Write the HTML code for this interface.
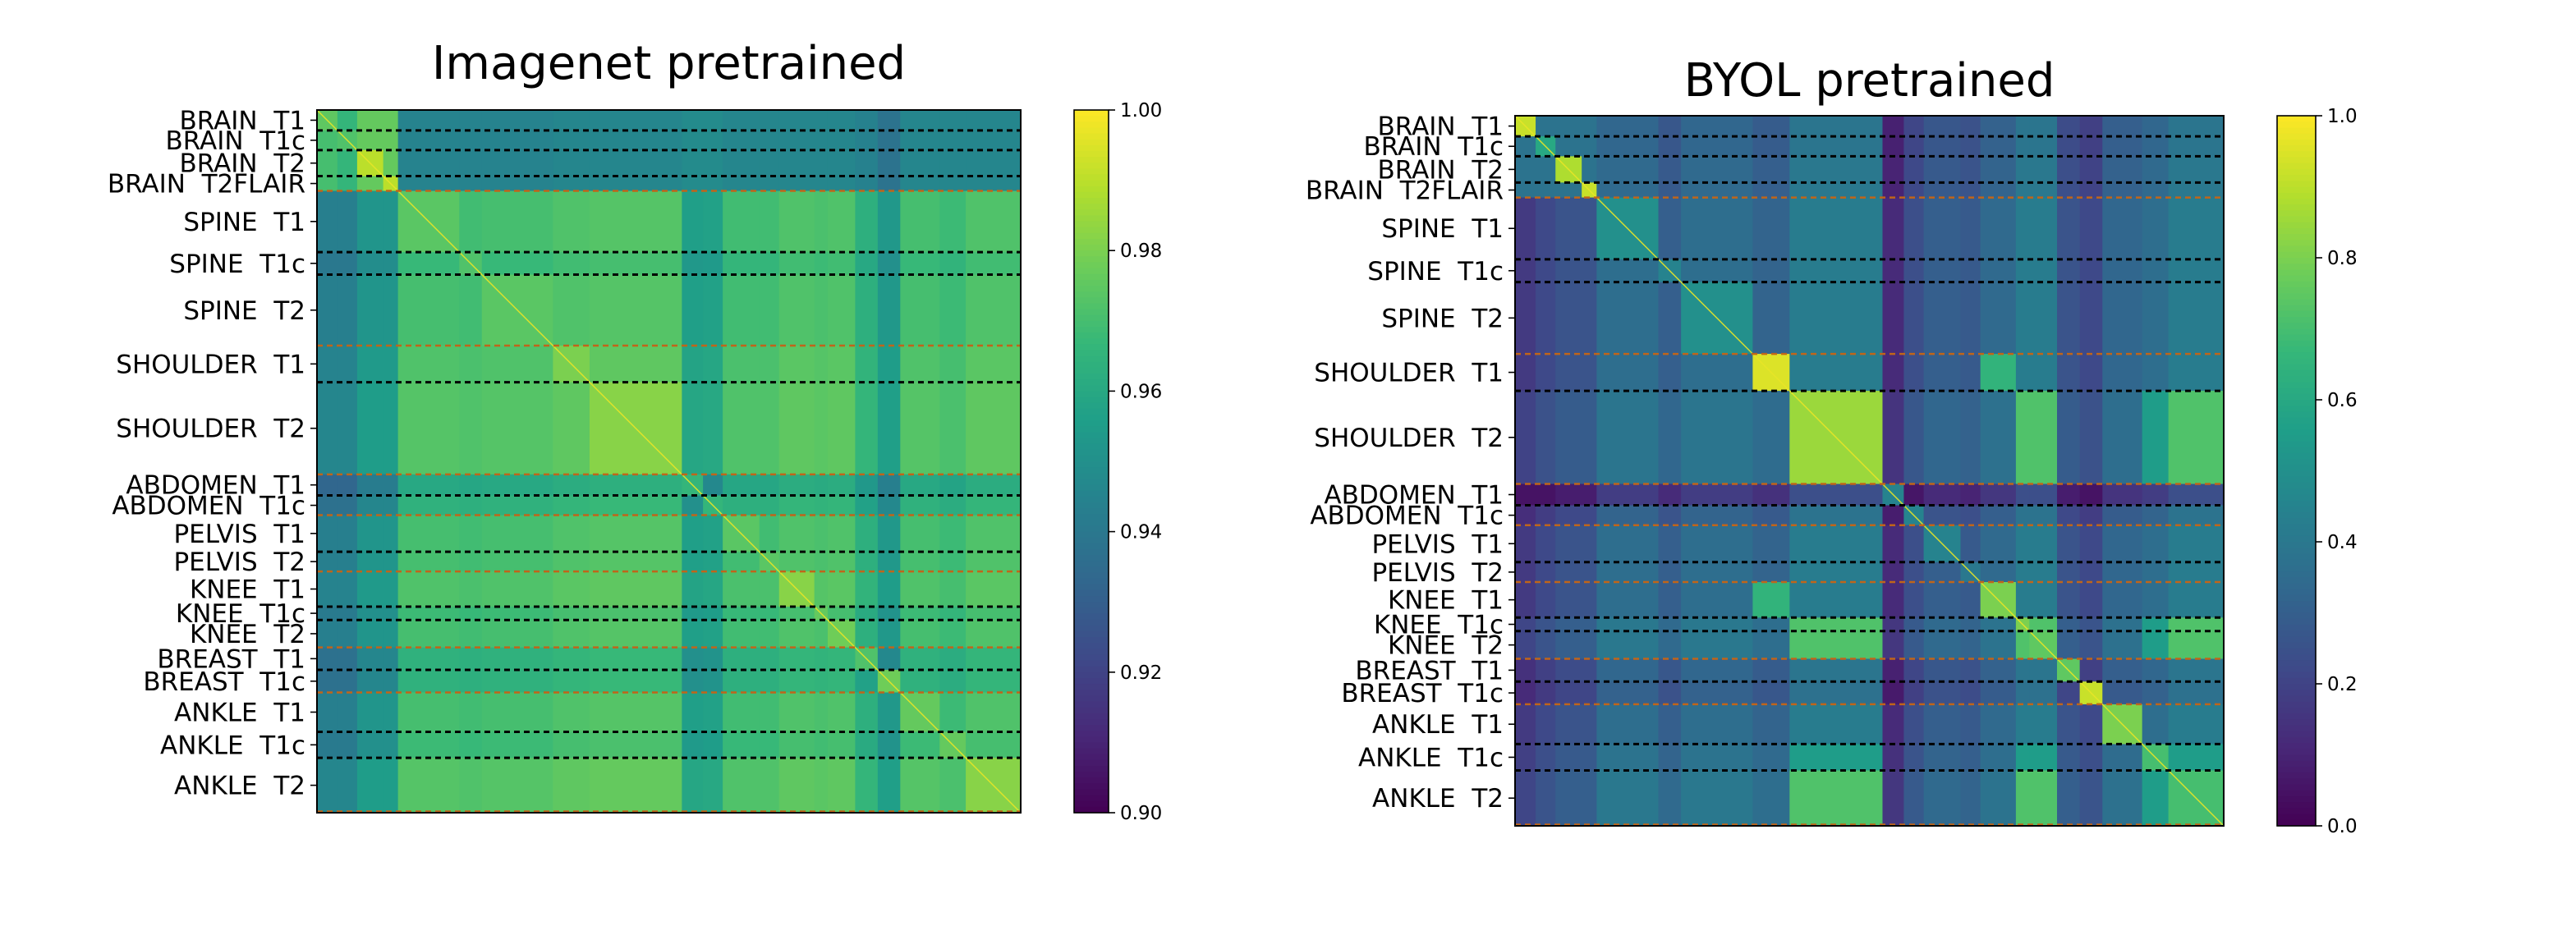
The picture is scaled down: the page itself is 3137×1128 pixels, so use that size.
<!DOCTYPE html>
<html><head><meta charset="utf-8"><style>
html,body{margin:0;padding:0;background:#fff;}
svg{display:block;}
text{font-family:"DejaVu Sans","Liberation Sans",sans-serif;}
</style></head><body>
<svg id="fig" width="3137" height="1128" viewBox="0 0 3137 1128" xmlns="http://www.w3.org/2000/svg">
<rect width="3137" height="1128" fill="#fff"/>
</svg>
<script>
const groupNames=["BRAIN  T1","BRAIN  T1c","BRAIN  T2","BRAIN  T2FLAIR","SPINE  T1","SPINE  T1c","SPINE  T2","SHOULDER  T1","SHOULDER  T2","ABDOMEN  T1","ABDOMEN  T1c","PELVIS  T1","PELVIS  T2","KNEE  T1","KNEE  T1c","KNEE  T2","BREAST  T1","BREAST  T1c","ANKLE  T1","ANKLE  T1c","ANKLE  T2"];
const groupCounts=[29,28,37,21,87,32,101,52,131,30,28,52,28,50,19,39,32,32,56,37,78];
const groupBody=[0,0,0,0,1,1,1,2,2,3,3,4,4,5,5,5,6,6,7,7,7];
// Imagenet block similarity
const imnColNonBrain=[0.943,0.943,0.952,0.952,0.970,0.969,0.970,0.972,0.973,0.956,0.957,0.969,0.969,0.972,0.971,0.972,0.963,0.953,0.970,0.968,0.972];
const imnColBrain=[0.970,0.966,0.976,0.976,0.945,0.945,0.945,0.946,0.946,0.948,0.948,0.946,0.946,0.946,0.946,0.946,0.944,0.938,0.946,0.946,0.946];
const imnRowOff=[0,0,0,0,0,-0.003,0,0.002,0.003,-0.010,-0.006,0,0,0.002,-0.002,0,-0.006,-0.006,0,-0.002,0.003];
const imnDiag=[0.975,0.972,0.99,0.99,0.974,0.972,0.974,0.98,0.982,0.966,0.966,0.974,0.974,0.982,0.976,0.978,0.972,0.978,0.976,0.976,0.982];
const imnTicks=[0.90,0.92,0.94,0.96,0.98,1.00];
const imnTickLabels=["0.90","0.92","0.94","0.96","0.98","1.00"];
// BYOL block similarity
const byolCol=[0.17,0.22,0.26,0.26,0.36,0.3,0.36,0.32,0.42,0.12,0.24,0.3,0.28,0.34,0.42,0.42,0.26,0.22,0.33,0.36,0.42];
const byolRowOff=[-0.03,-0.03,-0.02,-0.02,0,0,0,0,0.03,-0.18,-0.04,0,0,0,0.04,0.04,-0.03,-0.05,0,0.02,0.04];
const byolDiag=[0.92,0.6,0.88,0.92,0.5,0.45,0.5,0.95,0.85,0.45,0.45,0.45,0.4,0.8,0.8,0.75,0.75,0.92,0.8,0.7,0.7];
const byolCluster=[8,14,15,20];
const byolClusterVal=0.72;
const byolTicks=[0,0.2,0.4,0.6,0.8,1.0];
const byolTickLabels=["0.0","0.2","0.4","0.6","0.8","1.0"];

const VIR=[[68,1,84],[72,40,120],[62,74,137],[49,104,142],[38,130,142],[31,158,137],[53,183,121],[109,205,89],[180,222,44],[253,231,37]];
function viridis(t){t=Math.max(0,Math.min(1,t));const p=t*(VIR.length-1);const i=Math.min(VIR.length-2,Math.floor(p));const f=p-i;const a=VIR[i],b=VIR[i+1];return `rgb(${Math.round(a[0]+(b[0]-a[0])*f)},${Math.round(a[1]+(b[1]-a[1])*f)},${Math.round(a[2]+(b[2]-a[2])*f)})`;}

function imnVal(r,c){if(r===c)return imnDiag[r];const base=(r<4)?imnColBrain[c]:imnColNonBrain[c];return base+imnRowOff[r];}
function byolVal(r,c){if(r===c)return byolDiag[r];
 if(byolCluster.includes(r)&&byolCluster.includes(c))return byolClusterVal;
 if((r===7&&c===13)||(r===13&&c===7))return 0.65;
 if((r===19&&byolCluster.includes(c))||(c===19&&byolCluster.includes(r)))return 0.55;
 if(r<4&&c<4)return 0.38;
 return Math.max(0.05,Math.min(1,byolCol[c]+byolRowOff[r]));}

const NS="http://www.w3.org/2000/svg";
const svg=document.getElementById('fig');
function mk(tag,attrs,parent){const e=document.createElementNS(NS,tag);for(const k in attrs)e.setAttribute(k,attrs[k]);(parent||svg).appendChild(e);return e;}
const total=groupCounts.reduce((a,b)=>a+b,0);

function drawPanel(o){
 const g=mk('g',{});
 
 
 const W=o.x1-o.x0,H=o.y1-o.y0;
 const starts=[];let acc=0;for(const n of groupCounts){starts.push(acc);acc+=n;}
 const sx=v=>o.x0+v/total*W, sy=v=>o.y0+v/total*H;
 for(let r=0;r<groupCounts.length;r++){for(let c=0;c<groupCounts.length;c++){
  const v=o.val(r,c);const t=(v-o.vmin)/(o.vmax-o.vmin);
  const rc=mk('rect',{x:sx(starts[c]).toFixed(2),y:sy(starts[r]).toFixed(2),width:(sx(starts[c]+groupCounts[c])-sx(starts[c])+0.6).toFixed(2),height:(sy(starts[r]+groupCounts[r])-sy(starts[r])+0.6).toFixed(2),fill:viridis(t)},g);
  
  
 }}
 const dg=mk('line',{x1:o.x0,y1:o.y0,x2:o.x1,y2:o.y1,stroke:viridis(0.97),'stroke-width':1.5,opacity:0.9},g);
 
 
 for(let i=1;i<=groupCounts.length;i++){
  const y=sy(i<groupCounts.length?starts[i]:total)-(i===groupCounts.length?1.5:0);
  const between=(i===groupCounts.length)||groupBody[i]!==groupBody[i-1];
  const ln=mk('line',{x1:o.x0,y1:y,x2:o.x1,y2:y,stroke:between?'#c0651a':'#000','stroke-width':between?2.5:3,'stroke-dasharray':'7,5'},g);
  
  
 }
 mk('rect',{x:o.x0,y:o.y0,width:W,height:H,fill:'none',stroke:'#000','stroke-width':2},g);
 for(let i=0;i<groupCounts.length;i++){
  const y=sy(starts[i]+groupCounts[i]/2);
  mk('line',{x1:o.x0-8,y1:y,x2:o.x0,y2:y,stroke:'#000','stroke-width':1.6},g);
  const tx=mk('text',{x:o.x0-14,y:y+11,'text-anchor':'end','font-size':31,'xml:space':'preserve',style:'white-space:pre'},g);
  tx.textContent=groupNames[i];
  
  
 }
 const tt=mk('text',{x:(o.x0+o.x1)/2,y:o.titleY,'text-anchor':'middle','font-size':56},g);
 tt.textContent=o.title;
 
 
 const cb=mk('g',{},g);
 
 
 const steps=120;
 for(let k=0;k<steps;k++){const y=o.y0+k*H/steps;mk('rect',{x:o.cx0,y:y.toFixed(2),width:o.cx1-o.cx0,height:(H/steps+0.6).toFixed(2),fill:viridis(1-(k+0.5)/steps)},cb);}
 mk('rect',{x:o.cx0,y:o.y0,width:o.cx1-o.cx0,height:H,fill:'none',stroke:'#000','stroke-width':1.6},cb);
 for(let i=0;i<o.ticks.length;i++){
  const y=o.y1-(o.ticks[i]-o.vmin)/(o.vmax-o.vmin)*H;
  mk('line',{x1:o.cx1,y1:y,x2:o.cx1+8,y2:y,stroke:'#000','stroke-width':1.6},cb);
  const tl=mk('text',{x:o.cx1+14,y:y+8,'font-size':23},cb);
  tl.textContent=o.tickLabels[i];
  
  
 }
}
drawPanel({name:'imagenet-heatmap',x0:386,x1:1243,y0:134,y1:990,cx0:1308,cx1:1350,vmin:0.90,vmax:1.00,val:imnVal,ticks:imnTicks,tickLabels:imnTickLabels,title:'Imagenet pretrained',titleY:96});
drawPanel({name:'byol-heatmap',x0:1845,x1:2708,y0:141,y1:1006,cx0:2773,cx1:2820,vmin:0,vmax:1,val:byolVal,ticks:byolTicks,tickLabels:byolTickLabels,title:'BYOL pretrained',titleY:117});
</script>
</body></html>
